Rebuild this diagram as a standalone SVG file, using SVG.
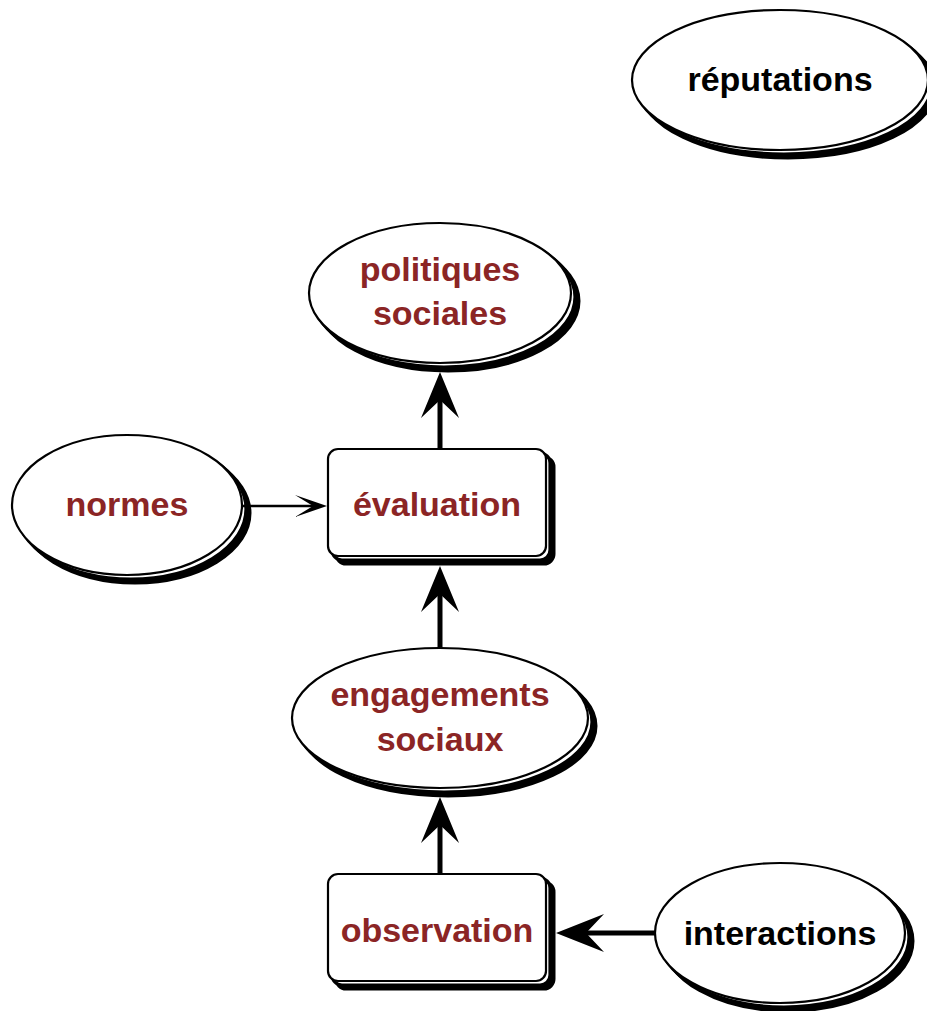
<svg xmlns="http://www.w3.org/2000/svg" width="927" height="1011" viewBox="0 0 927 1011">
  <style>
    .main { fill: #fff; stroke: #000; stroke-width: 2.2; }
    .sh1 { fill: #000; stroke: #000; stroke-width: 3; }
    .sh2 { fill: #fff; stroke: #000; stroke-width: 3.2; }
    .lbl { font-family: "Liberation Sans", "DejaVu Sans", sans-serif; font-weight: bold; font-size: 34px; text-anchor: middle; }
    .red { fill: #8b2525; }
    .blk { fill: #000; }
    .thick { stroke: #000; stroke-width: 5; fill: none; }
    .thin { stroke: #000; stroke-width: 2.5; fill: none; }
  </style>
  <rect width="927" height="1011" fill="#fff"/>

  <g id="reputations">
    <ellipse class="sh1" cx="788" cy="88" rx="148" ry="70"/>
    <ellipse class="sh2" cx="784" cy="84" rx="148" ry="70"/>
    <ellipse class="main" cx="780" cy="80" rx="148" ry="70"/>
    <text class="lbl blk" x="780" y="91">réputations</text>
  </g>

  <g id="politiques">
    <ellipse class="sh1" cx="448" cy="301" rx="131" ry="70"/>
    <ellipse class="sh2" cx="444" cy="297" rx="131" ry="70"/>
    <ellipse class="main" cx="440" cy="293" rx="131" ry="70"/>
    <text class="lbl red" x="440" y="281">politiques</text>
    <text class="lbl red" x="440" y="325">sociales</text>
  </g>

  <g id="normes">
    <ellipse class="sh1" cx="135" cy="513" rx="115" ry="70"/>
    <ellipse class="sh2" cx="131" cy="509" rx="115" ry="70"/>
    <ellipse class="main" cx="127" cy="505" rx="115" ry="70"/>
    <text class="lbl red" x="127" y="516">normes</text>
  </g>

  <g id="evaluation">
    <rect class="sh1" x="336" y="457" width="218" height="107" rx="10"/>
    <rect class="sh2" x="332" y="453" width="218" height="107" rx="10"/>
    <rect class="main" x="328" y="449" width="218" height="107" rx="10"/>
    <text class="lbl red" x="437" y="516">évaluation</text>
  </g>

  <g id="engagements">
    <ellipse class="sh1" cx="448" cy="726" rx="148" ry="70"/>
    <ellipse class="sh2" cx="444" cy="722" rx="148" ry="70"/>
    <ellipse class="main" cx="440" cy="718" rx="148" ry="70"/>
    <text class="lbl red" x="440" y="706">engagements</text>
    <text class="lbl red" x="440" y="751">sociaux</text>
  </g>

  <g id="observation">
    <rect class="sh1" x="336" y="882" width="218" height="107" rx="10"/>
    <rect class="sh2" x="332" y="878" width="218" height="107" rx="10"/>
    <rect class="main" x="328" y="874" width="218" height="107" rx="10"/>
    <text class="lbl red" x="437" y="942">observation</text>
  </g>

  <g id="interactions">
    <ellipse class="sh1" cx="788" cy="941" rx="125" ry="70"/>
    <ellipse class="sh2" cx="784" cy="937" rx="125" ry="70"/>
    <ellipse class="main" cx="780" cy="933" rx="125" ry="70"/>
    <text class="lbl blk" x="780" y="945">interactions</text>
  </g>

  <g id="connectors">
    <!-- évaluation → politiques sociales -->
    <line class="thick" x1="440" y1="449" x2="440" y2="395"/>
    <polygon points="440,372 459,418 440,400 421,418" fill="#000"/>
    <!-- engagements sociaux → évaluation -->
    <line class="thick" x1="440" y1="648" x2="440" y2="590"/>
    <polygon points="440,566 459,612 440,594 421,612" fill="#000"/>
    <!-- observation → engagements sociaux -->
    <line class="thick" x1="440" y1="874" x2="440" y2="820"/>
    <polygon points="440,797 459,843 440,825 421,843" fill="#000"/>
    <!-- interactions → observation -->
    <line class="thick" x1="655" y1="933" x2="580" y2="933"/>
    <polygon points="556,933 604,914 586,933 604,952" fill="#000"/>
    <!-- normes → évaluation -->
    <line class="thin" x1="243" y1="506" x2="315" y2="506"/>
    <polygon points="327,506 295,495 313,506 295,517" fill="#000"/>
  </g>
</svg>
